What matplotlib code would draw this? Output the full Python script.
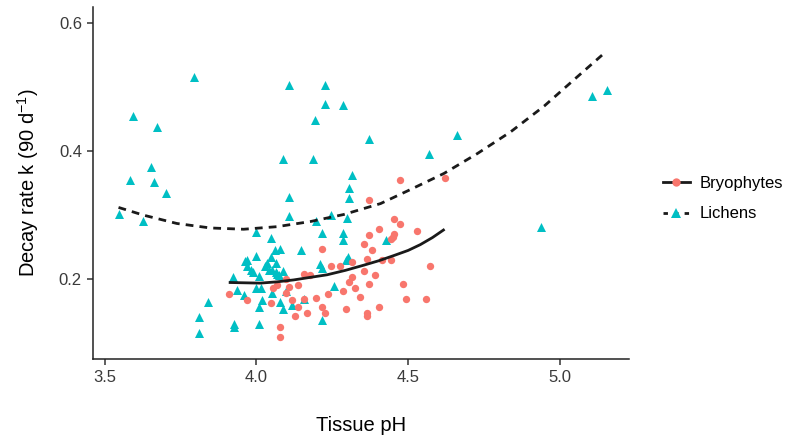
import matplotlib
matplotlib.use("Agg")
import matplotlib.pyplot as plt
from matplotlib.lines import Line2D

plt.rcParams['font.family'] = ['Liberation Sans', 'DejaVu Sans']
plt.rcParams['mathtext.default'] = 'regular'

# tissue pH / decay rate
bryo_ph = [3.909, 3.968, 4.047, 4.056, 4.067, 4.077, 4.077, 4.097, 4.097, 4.108,
           4.117, 4.128, 4.136, 4.136, 4.157, 4.157, 4.166, 4.177, 4.196, 4.216,
           4.216, 4.227, 4.235, 4.246, 4.276, 4.286, 4.295, 4.304, 4.315, 4.315,
           4.325, 4.343, 4.354, 4.356, 4.365, 4.365, 4.365, 4.370, 4.370, 4.372,
           4.380, 4.392, 4.403, 4.403, 4.413, 4.442, 4.444, 4.450, 4.453, 4.455,
           4.472, 4.472, 4.483, 4.494, 4.530, 4.560, 4.571, 4.620]
bryo_k = [0.177, 0.168, 0.163, 0.186, 0.191, 0.126, 0.110, 0.200, 0.179, 0.188,
          0.168, 0.143, 0.191, 0.156, 0.208, 0.169, 0.147, 0.206, 0.171, 0.247,
          0.156, 0.147, 0.177, 0.221, 0.220, 0.181, 0.153, 0.196, 0.227, 0.204,
          0.186, 0.173, 0.255, 0.213, 0.232, 0.148, 0.142, 0.324, 0.269, 0.193,
          0.246, 0.206, 0.278, 0.157, 0.230, 0.230, 0.263, 0.266, 0.294, 0.271,
          0.354, 0.286, 0.193, 0.170, 0.275, 0.170, 0.221, 0.358]

lich_ph = [3.546, 3.584, 3.595, 3.625, 3.654, 3.664, 3.674, 3.703, 3.793, 3.810,
           3.810, 3.840, 3.924, 3.926, 3.928, 3.935, 3.959, 3.962, 3.970, 3.970,
           3.981, 3.990, 3.998, 3.999, 3.999, 4.009, 4.009, 4.009, 4.014, 4.020,
           4.027, 4.036, 4.042, 4.047, 4.048, 4.053, 4.053, 4.060, 4.064, 4.064,
           4.067, 4.075, 4.078, 4.079, 4.089, 4.089, 4.088, 4.097, 4.108, 4.108,
           4.108, 4.116, 4.146, 4.157, 4.187, 4.192, 4.197, 4.208, 4.215, 4.216,
           4.216, 4.227, 4.227, 4.246, 4.257, 4.286, 4.286, 4.286, 4.295, 4.299,
           4.301, 4.304, 4.304, 4.315, 4.372, 4.428, 4.568, 4.661, 4.937, 5.105,
           5.155]
lich_k = [0.301, 0.354, 0.454, 0.291, 0.375, 0.352, 0.437, 0.334, 0.516, 0.141,
          0.116, 0.164, 0.203, 0.126, 0.130, 0.184, 0.176, 0.229, 0.230, 0.221,
          0.215, 0.211, 0.187, 0.273, 0.236, 0.205, 0.156, 0.131, 0.186, 0.167,
          0.221, 0.226, 0.215, 0.234, 0.265, 0.215, 0.179, 0.246, 0.226, 0.212,
          0.209, 0.207, 0.165, 0.247, 0.213, 0.153, 0.388, 0.182, 0.503, 0.329,
          0.299, 0.160, 0.246, 0.169, 0.388, 0.448, 0.291, 0.224, 0.272, 0.217,
          0.137, 0.503, 0.474, 0.300, 0.189, 0.471, 0.272, 0.262, 0.230, 0.295,
          0.234, 0.343, 0.326, 0.362, 0.418, 0.261, 0.396, 0.425, 0.282, 0.485,
          0.495]

# fitted curves as drawn in the figure
bryo_fit_ph = [3.909, 3.960, 4.013, 4.068, 4.123, 4.178, 4.233, 4.294, 4.354,
               4.404, 4.453, 4.500, 4.540, 4.580, 4.620]
bryo_fit_k = [0.195, 0.1945, 0.194, 0.196, 0.199, 0.203, 0.207, 0.214, 0.222,
              0.229, 0.237, 0.245, 0.254, 0.265, 0.278]
lich_fit_ph = [3.546, 3.628, 3.738, 3.848, 3.958, 4.068, 4.178, 4.288, 4.409,
               4.508, 4.618, 4.728, 4.838, 4.948, 5.058, 5.152]
lich_fit_k = [0.312, 0.300, 0.287, 0.280, 0.278, 0.282, 0.290, 0.301, 0.318,
              0.340, 0.365, 0.396, 0.430, 0.470, 0.516, 0.555]

groups = ["Bryophytes", "Lichens"]
red = "#F8766D"
teal = "#00BFC4"
dash = (0, (2.8, 2.2))

fig = plt.figure(figsize=(7.85, 4.36), dpi=100)
ax = fig.add_axes([0.1185, 0.176, 0.683, 0.808])

ax.scatter(lich_ph, lich_k, s=42, marker='^', color=teal, linewidths=0, zorder=2)
ax.scatter(bryo_ph, bryo_k, s=28, marker='o', color=red, linewidths=0, zorder=3)

ax.plot(bryo_fit_ph, bryo_fit_k, color='#1a1a1a', lw=2, ls='-', zorder=4,
        solid_capstyle='butt')
ax.plot(lich_fit_ph, lich_fit_k, color='#1a1a1a', lw=2, ls=dash, zorder=4)

ax.set_xlim(3.462, 5.228)
ax.set_ylim(0.0753, 0.6245)
ax.set_xticks([3.5, 4.0, 4.5, 5.0])
ax.set_yticks([0.2, 0.4, 0.6])
ax.set_xticklabels(["3.5", "4.0", "4.5", "5.0"])
ax.set_yticklabels(["0.2", "0.4", "0.6"])

for s in ['top', 'right']:
    ax.spines[s].set_visible(False)
for s in ['left', 'bottom']:
    ax.spines[s].set_linewidth(1.1)
    ax.spines[s].set_color('#222222')
ax.tick_params(length=4, width=1.1, color='#333333', labelsize=12, labelcolor='#3a3a3a', pad=4)

ax.set_xlabel("Tissue pH", fontsize=14.5, labelpad=22)
ax.set_ylabel("Decay rate k (90 d$^{-1}$)", fontsize=14.5, labelpad=13)

handles = [
    Line2D([], [], color='#1a1a1a', lw=2, ls='-', marker='o', markersize=6,
           markerfacecolor=red, markeredgewidth=0),
    Line2D([], [], color='#1a1a1a', lw=2, ls=(0, (1.6, 2.2)), marker='^', markersize=7,
           markerfacecolor=teal, markeredgewidth=0),
]
fig.legend(handles, groups, loc='center left', bbox_to_anchor=(0.8446, 0.5447),
           frameon=False, fontsize=12, handlelength=1.6, handletextpad=0.6,
           labelspacing=0.95, borderpad=0, borderaxespad=0)

fig.savefig("out.png", dpi=100)
